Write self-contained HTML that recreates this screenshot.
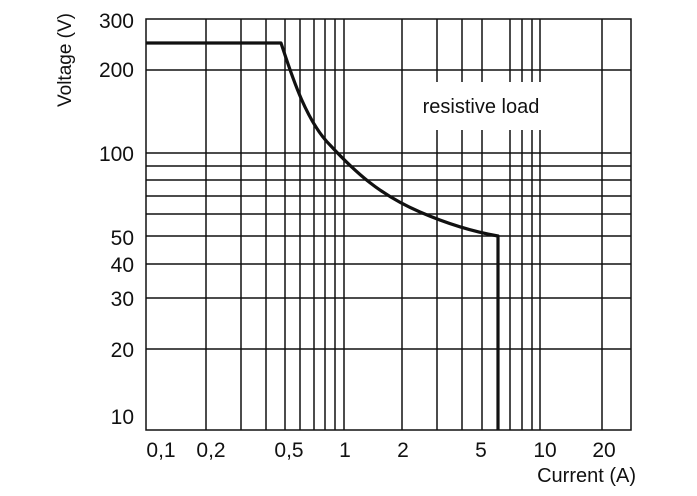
<!DOCTYPE html>
<html><head><meta charset="utf-8"><style>
html,body{margin:0;padding:0;background:#fff;}
svg{display:block;}
text{font-family:"Liberation Sans Narrow","Liberation Sans",sans-serif;fill:#111;}
</style></head><body>
<svg width="697" height="496" viewBox="0 0 697 496">
<g stroke="#111" stroke-width="1.5" fill="none">
<line x1="146" y1="70" x2="631" y2="70"/>
<line x1="146" y1="153" x2="631" y2="153"/>
<line x1="146" y1="166" x2="631" y2="166"/>
<line x1="146" y1="180" x2="631" y2="180"/>
<line x1="146" y1="196" x2="631" y2="196"/>
<line x1="146" y1="214" x2="631" y2="214"/>
<line x1="146" y1="236" x2="631" y2="236"/>
<line x1="146" y1="264" x2="631" y2="264"/>
<line x1="146" y1="298" x2="631" y2="298"/>
<line x1="146" y1="349" x2="631" y2="349"/>
<line x1="206" y1="19" x2="206" y2="430"/>
<line x1="241" y1="19" x2="241" y2="430"/>
<line x1="266" y1="19" x2="266" y2="430"/>
<line x1="285" y1="19" x2="285" y2="430"/>
<line x1="300" y1="19" x2="300" y2="430"/>
<line x1="314" y1="19" x2="314" y2="430"/>
<line x1="325" y1="19" x2="325" y2="430"/>
<line x1="335" y1="19" x2="335" y2="430"/>
<line x1="344" y1="19" x2="344" y2="430"/>
<line x1="402" y1="19" x2="402" y2="430"/>
<line x1="437" y1="19" x2="437" y2="82"/><line x1="437" y1="130" x2="437" y2="430"/>
<line x1="462" y1="19" x2="462" y2="82"/><line x1="462" y1="130" x2="462" y2="430"/>
<line x1="482" y1="19" x2="482" y2="82"/><line x1="482" y1="130" x2="482" y2="430"/>
<line x1="510" y1="19" x2="510" y2="82"/><line x1="510" y1="130" x2="510" y2="430"/>
<line x1="522" y1="19" x2="522" y2="82"/><line x1="522" y1="130" x2="522" y2="430"/>
<line x1="532" y1="19" x2="532" y2="82"/><line x1="532" y1="130" x2="532" y2="430"/>
<line x1="540" y1="19" x2="540" y2="82"/><line x1="540" y1="130" x2="540" y2="430"/>
<line x1="602" y1="19" x2="602" y2="430"/>
<rect x="146" y="19" width="485" height="411"/>
</g>
<path d="M146 43 L281 43 C290 70 305 120 330 145 C355 172 380 195 420 212 C450 225 475 232 498 236 L498 430" stroke="#111" stroke-width="3.2" fill="none" stroke-linejoin="round"/>
<g font-size="21" text-anchor="end">
<text x="134" y="28">300</text>
<text x="134" y="77">200</text>
<text x="134" y="161">100</text>
<text x="134" y="245">50</text>
<text x="134" y="272">40</text>
<text x="134" y="306">30</text>
<text x="134" y="357">20</text>
<text x="134" y="424">10</text>
</g>
<g font-size="21" text-anchor="middle">
<text x="161" y="457">0,1</text>
<text x="211" y="457">0,2</text>
<text x="289" y="457">0,5</text>
<text x="345" y="457">1</text>
<text x="403" y="457">2</text>
<text x="481" y="457">5</text>
<text x="545" y="457">10</text>
<text x="604" y="457">20</text>
</g>
<text x="636" y="482" font-size="20" text-anchor="end">Current (A)</text>
<text x="481" y="113" font-size="20" text-anchor="middle">resistive load</text>
<text transform="translate(71,60) rotate(-90)" font-size="19" text-anchor="middle">Voltage (V)</text>
</svg>
</body></html>
